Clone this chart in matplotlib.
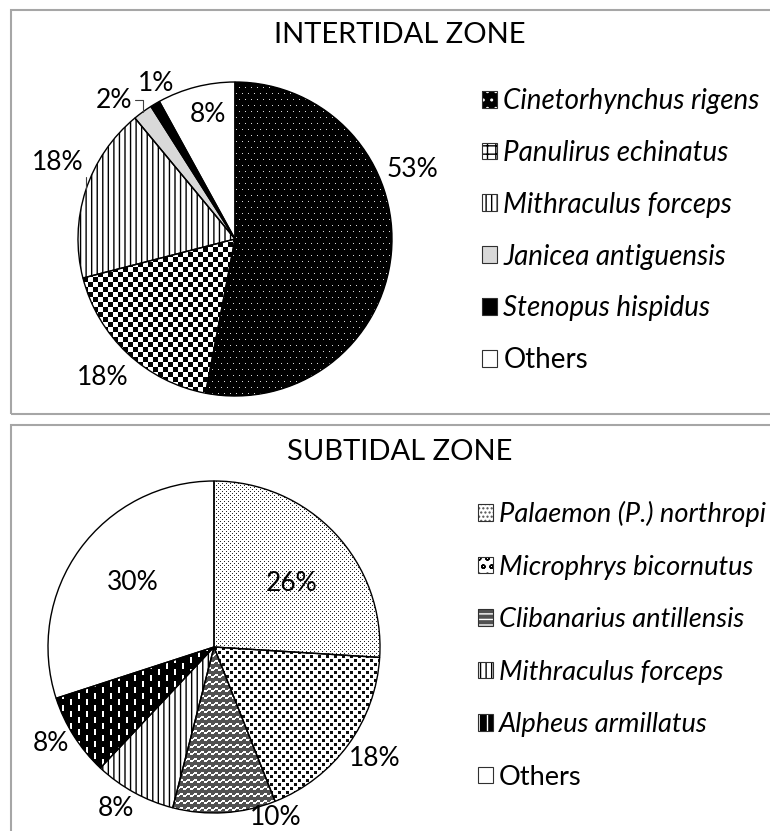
import numpy as np
import matplotlib
matplotlib.use('Agg')
import matplotlib.pyplot as plt
import matplotlib.patches as mpatches
from matplotlib.legend_handler import HandlerTuple

W, H, DPI = 770, 831, 100

# data
inter_labels = ['Cinetorhynchus rigens', 'Panulirus echinatus', 'Mithraculus forceps',
                'Janicea antiguensis', 'Stenopus hispidus', 'Others']
inter_values = [53, 18, 18, 2, 1, 8]

sub_labels = ['Palaemon (P.) northropi', 'Microphrys bicornutus', 'Clibanarius antillensis',
              'Mithraculus forceps', 'Alpheus armillatus', 'Others']
sub_values = [26, 18, 10, 8, 8, 30]

plt.rcParams['font.family'] = ['Lato', 'DejaVu Sans']
plt.rcParams['hatch.linewidth'] = 1.0

# (face, hatch, hatch colour, texture) -- texture drawn in the pie as a clipped image,
# the hatch is used for the wedge itself only when there is no texture, and for the legend key
inter_styles = [
    ('black', '..', 'white', 'dots'),
    ('white', '++', 'black', 'checker'),
    ('white', '|||', 'black', None),
    ('#d9d9d9', None, None, None),
    ('black', None, None, None),
    ('white', None, None, None),
]
sub_styles = [
    ('white', '....', '#505050', 'fine'),
    ('white', 'oo', 'black', 'spots'),
    ('#505050', '---', 'white', 'wavy'),
    ('white', '|||', 'black', None),
    ('black', '||', 'white', 'dash'),
    ('white', None, None, None),
]

# label positions in units of pie radius
inter_pos = [(1.13, 0.44), (-0.84, -0.88), (-1.13, 0.49), (-0.77, 0.885), (-0.50, 0.99), (-0.17, 0.79)]
inter_lead = [False, False, True, True, False, False]
sub_pos = [(0.47, 0.385), (0.97, -0.67), (0.37, -1.03), (-0.59, -0.97), (-0.98, -0.58), (-0.49, 0.39)]
sub_lead = [False] * 6


def texture(kind, n):
    i, j = np.mgrid[0:n, 0:n]
    if kind == 'checker':
        return ((i // 5 + j // 5) % 2).astype(float)
    if kind == 'dots':
        arr = np.zeros((n, n))
        arr[(i % 6 == 0) & ((j + 3 * ((i // 6) % 2)) % 6 == 0)] = 0.85
        return arr
    if kind == 'fine':
        arr = np.ones((n, n))
        arr[((i % 4 == 0) & (j % 4 == 0)) | ((i % 4 == 2) & (j % 4 == 2))] = 0.15
        return arr
    if kind == 'spots':
        arr = np.ones((n, n))
        arr[((i % 8 < 3) & (j % 8 < 3)) | (((i + 4) % 8 < 3) & ((j + 4) % 8 < 3))] = 0.05
        return arr
    if kind == 'wavy':
        arr = np.full((n, n), 0.32)
        wave = np.round(1.3 * np.sin(2 * np.pi * j / 7)).astype(int)
        arr[((i + wave) % 7) < 2] = 1.0
        return arr
    if kind == 'dash':
        arr = np.zeros((n, n))
        shift = (j // 8) % 2 * 6
        arr[((j % 8) < 2) & (((i + shift) % 12) < 6)] = 1.0
        return arr


fig = plt.figure(figsize=(W / DPI, H / DPI), dpi=DPI)

# panel frames
for y0, y1 in [(10, 414), (425, 850)]:
    fig.add_artist(mpatches.Rectangle((11 / W, 1 - y1 / H), (800 - 11) / W, (y1 - y0) / H,
                                      transform=fig.transFigure, fill=False,
                                      edgecolor='#a6a6a6', linewidth=1.5))


def draw_pie(cx, cy, r, values, styles, pos, lead):
    n = int(round(2 * 1.35 * r))
    L = n / (2 * r)
    left = round(cx - n / 2)
    bottom = H - round(cy + n / 2)
    ax = fig.add_axes([left / W, bottom / H, n / W, n / H])
    wedges, _ = ax.pie(values, startangle=90, counterclock=False,
                       colors=[s[0] for s in styles], wedgeprops=dict(linewidth=0))
    for w, (face, hatch, hc, tex) in zip(wedges, styles):
        if tex:
            im = ax.imshow(texture(tex, n), cmap='gray', vmin=0, vmax=1, extent=(-L, L, -L, L),
                           interpolation='nearest', zorder=2)
            im.set_clip_path(w)
        elif hatch:
            ax.add_patch(mpatches.Wedge(w.center, w.r, w.theta1, w.theta2, facecolor='none',
                                        edgecolor=hc, hatch=hatch, linewidth=0, zorder=2))
        ax.add_patch(mpatches.Wedge(w.center, w.r, w.theta1, w.theta2, facecolor='none',
                                    edgecolor='black', linewidth=1, zorder=3))
    for w, v, (x, y), ld in zip(wedges, values, pos, lead):
        if ld:
            mid = np.deg2rad((w.theta1 + w.theta2) / 2)
            ax.annotate(f'{v}%', xy=(np.cos(mid), np.sin(mid)), xytext=(x, y),
                        ha='center', va='center', fontsize=19, zorder=4,
                        arrowprops=dict(arrowstyle='-', color='#404040', lw=0.8,
                                        shrinkA=0, shrinkB=0,
                                        connectionstyle='angle,angleA=0,angleB=90,rad=0'))
        else:
            ax.text(x, y, f'{v}%', ha='center', va='center', fontsize=19, zorder=4)
    ax.set_xlim(-L, L)
    ax.set_ylim(-L, L)
    ax.set_aspect('auto')
    ax.axis('off')


def draw_legend(labels, styles, x, y, size, spacing):
    handles = []
    for face, hatch, hc, tex in styles:
        fill = mpatches.Patch(facecolor=face, edgecolor=hc or face, hatch=hatch, linewidth=0)
        edge = mpatches.Patch(facecolor='none', edgecolor='#303030', linewidth=0.8)
        handles.append((fill, edge))
    leg = fig.legend(handles, labels, handler_map={tuple: HandlerTuple(ndivide=1, pad=0)},
                     loc='upper left', bbox_to_anchor=(x / W, 1 - y / H), frameon=False,
                     prop=dict(style='italic', size=size), handlelength=0.55, handleheight=0.55,
                     handletextpad=0.22, labelspacing=spacing, borderpad=0,
                     borderaxespad=0)
    leg.get_texts()[-1].set_style('normal')


draw_pie(235, 239, 157, inter_values, inter_styles, inter_pos, inter_lead)
draw_pie(214, 647, 166, sub_values, sub_styles, sub_pos, sub_lead)

fig.text(400 / W, 1 - 35 / H, 'INTERTIDAL ZONE', ha='center', va='center', fontsize=21)
fig.text(400 / W, 1 - 452 / H, 'SUBTIDAL ZONE', ha='center', va='center', fontsize=21)

draw_legend(inter_labels, inter_styles, 482, 88, 20, 0.93)
draw_legend(sub_labels, sub_styles, 478, 501, 19.6, 1.01)

fig.savefig('out.png', dpi=DPI)
